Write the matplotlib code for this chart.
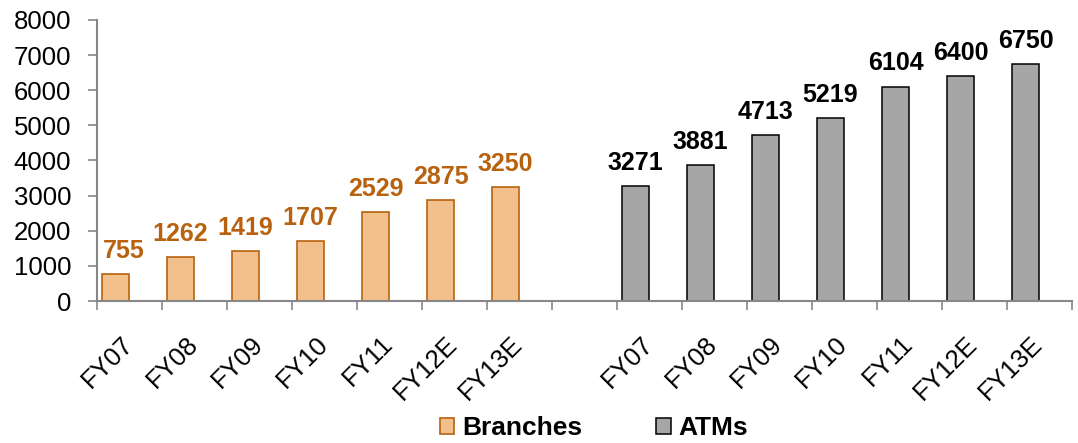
import numpy as np
import matplotlib.pyplot as plt
import matplotlib.transforms as mtransforms
from matplotlib.patches import Patch

plt.rcParams['font.family'] = ['Liberation Sans', 'DejaVu Sans']

# Branch and ATM network, FY07 to FY13E
years = ["FY07", "FY08", "FY09", "FY10", "FY11", "FY12E", "FY13E"]
branches = [755, 1262, 1419, 1707, 2529, 2875, 3250]
atms = [3271, 3881, 4713, 5219, 6104, 6400, 6750]

br_face = "#F2C08A"
br_edge = "#B8620F"
br_text = "#B8620F"
atm_face = "#A6A6A6"
atm_edge = "#000000"
spine_col = "#878787"

fig = plt.figure(figsize=(10.78, 4.43), dpi=100)
ax = fig.add_axes([0.090, 0.3205, 0.9044, 0.6344])

n = len(years)
x_br = np.arange(n)
x_atm = np.arange(n) + n + 1
width = 0.425
shift = -0.215  # bars sit in the left slot of each category

ax.bar(x_br + shift, branches, width, color=br_face, edgecolor=br_edge, linewidth=1.2)
ax.bar(x_atm + shift, atms, width, color=atm_face, edgecolor=atm_edge, linewidth=1.1)

for i, (x, v) in enumerate(zip(x_br + shift, branches)):
    dx = 6 if i == 0 else 0  # keep the first label clear of the y axis
    ax.annotate(str(v), (x, v), xytext=(dx, 8), textcoords="offset points",
                ha="center", va="bottom", fontsize=18, fontweight="bold",
                color=br_text)
for x, v in zip(x_atm + shift, atms):
    ax.annotate(str(v), (x, v), xytext=(0, 8), textcoords="offset points",
                ha="center", va="bottom", fontsize=18, fontweight="bold",
                color="black")

# y axis
ax.set_ylim(0, 8000)
ax.set_yticks(np.arange(0, 8001, 1000))
ax.tick_params(axis="y", direction="out", length=6.5, width=1.2,
               color=spine_col, labelsize=18.5, pad=12)

# x axis: labels at category centres, tick marks at category boundaries
ax.set_xlim(-0.5, 2 * n + 0.5)
ax.set_xticks(list(x_br) + list(x_atm))
ax.set_xticklabels(years + years, rotation=45, ha="right", va="top",
                   fontsize=18.5)
ax.set_xticks(np.arange(-0.5, 2 * n + 1, 1), minor=True)
ax.tick_params(axis="x", which="major", length=0, pad=22)
ax.tick_params(axis="x", which="minor", direction="out", length=6.5,
               width=1.2, color=spine_col)
nudge = mtransforms.ScaledTranslation(8 / 100, 0, fig.dpi_scale_trans)
for lbl in ax.get_xticklabels():
    lbl.set_transform(lbl.get_transform() + nudge)

for s in ["top", "right"]:
    ax.spines[s].set_visible(False)
for s in ["left", "bottom"]:
    ax.spines[s].set_color(spine_col)
    ax.spines[s].set_linewidth(1.5)

handles = [Patch(facecolor=br_face, edgecolor=br_edge, linewidth=1.2),
           Patch(facecolor=atm_face, edgecolor=atm_edge, linewidth=1.1)]
fig.legend(handles, ["Branches", "ATMs"], loc="center",
           bbox_to_anchor=(0.551, 0.034), ncol=2, frameon=False,
           prop={"size": 19, "weight": "bold"}, handlelength=0.55,
           handleheight=0.55, handletextpad=0.3, columnspacing=2.8)

fig.savefig("out.png", dpi=100)
